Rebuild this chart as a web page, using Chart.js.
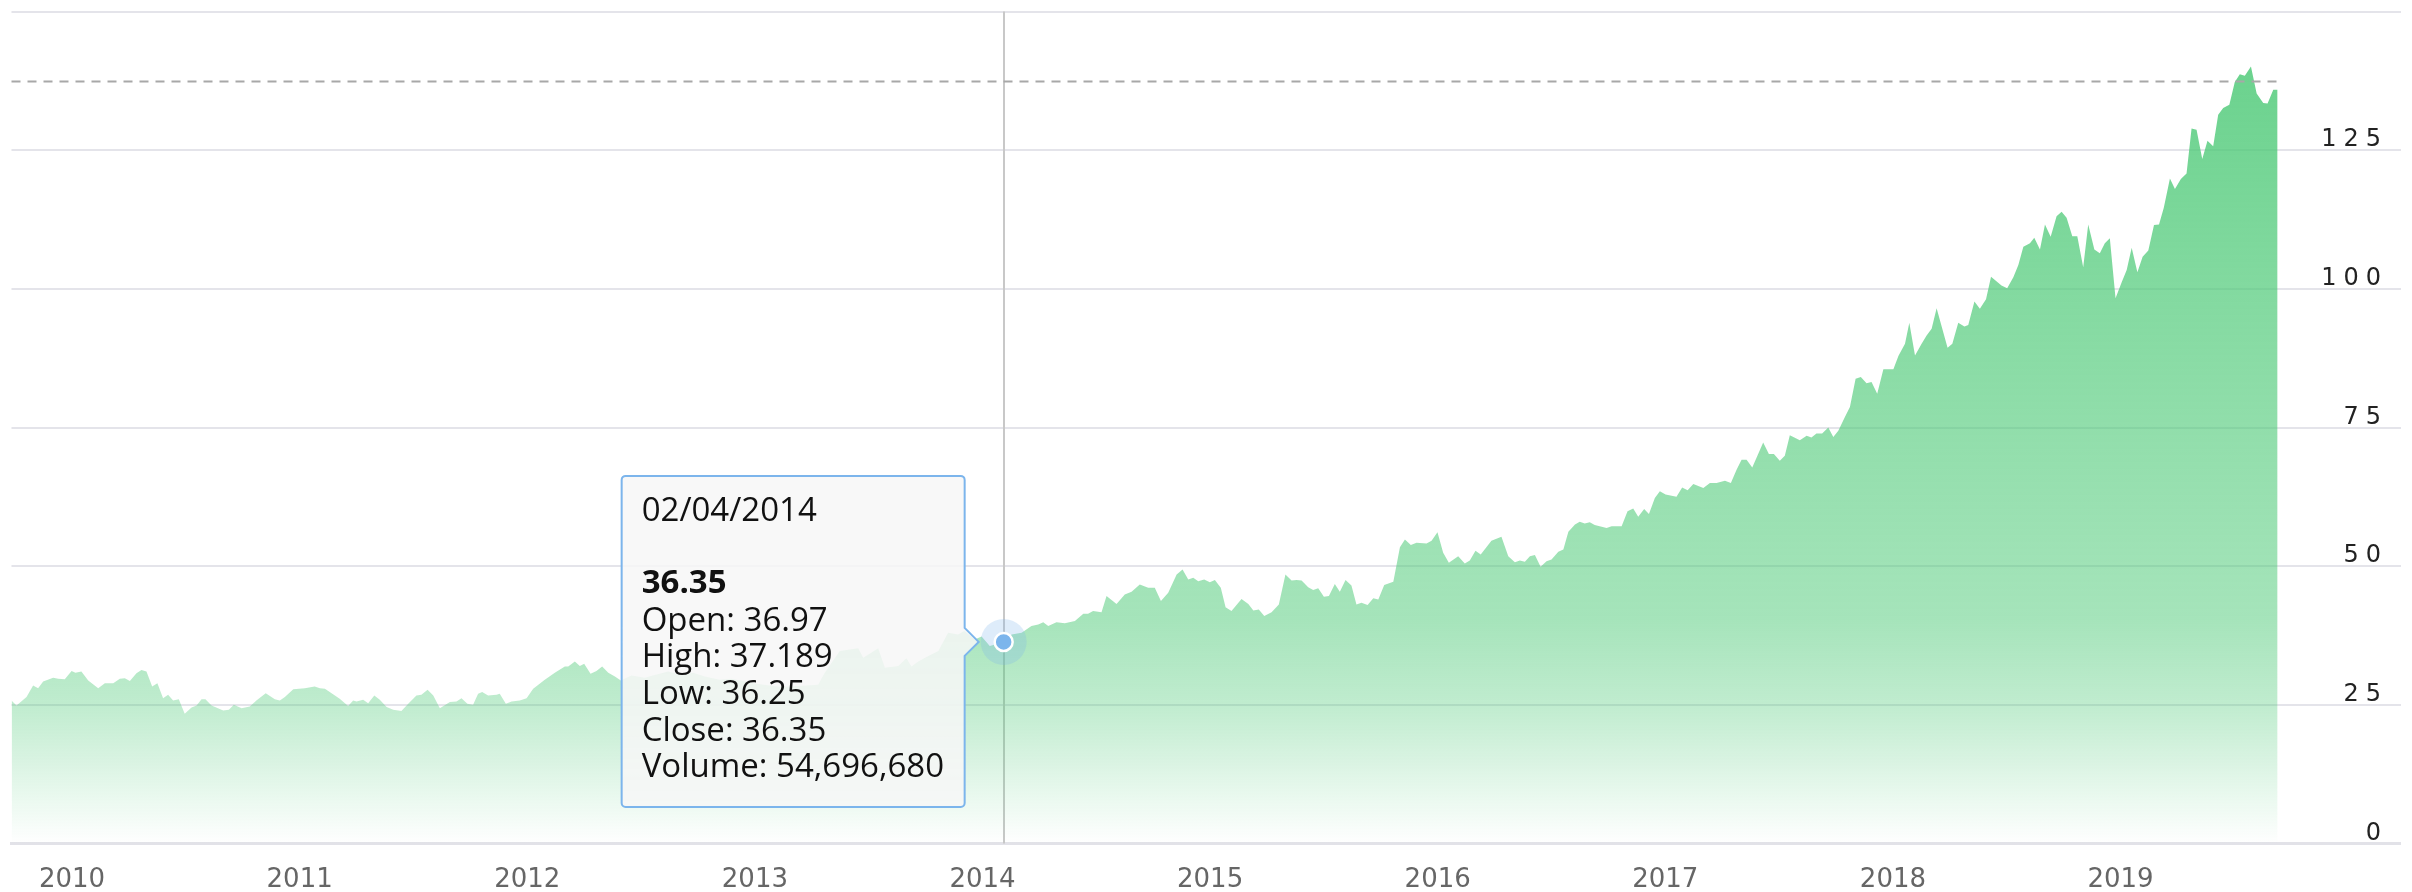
<!DOCTYPE html>
<html><head><meta charset="utf-8">
<script src="https://cdn.jsdelivr.net/npm/chart.js@4/dist/chart.umd.min.js"></script>
<style>html,body{margin:0;padding:0;background:#fff;}#wrap{width:2412px;height:892px;position:relative;}</style>
</head><body><div id="wrap"><canvas id="c"></canvas></div>
<script>
// ---- data (decimal year, close) ----
const years = [
2009.734,2009.756,2009.800,2009.829,2009.851,2009.873,2009.917,2009.939,2009.968,2009.998,
2010.015,2010.041,2010.071,2010.115,2010.144,2010.181,2010.210,2010.232,2010.254,2010.283,
2010.305,2010.327,2010.352,2010.375,2010.400,2010.422,2010.444,2010.469,2010.495,2010.525,
2010.547,2010.569,2010.586,2010.613,2010.664,2010.689,2010.711,2010.745,2010.781,2010.810,
2010.851,2010.891,2010.913,2010.935,2010.972,2011.023,2011.066,2011.089,2011.111,2011.132,
2011.176,2011.213,2011.235,2011.250,2011.279,2011.301,2011.328,2011.352,2011.382,2011.411,
2011.447,2011.477,2011.513,2011.535,2011.562,2011.587,2011.616,2011.660,2011.689,2011.711,
2011.737,2011.762,2011.784,2011.802,2011.828,2011.865,2011.879,2011.906,2011.931,2011.967,
2011.997,2012.026,2012.077,2012.121,2012.165,2012.180,2012.209,2012.231,2012.250,2012.278,
2012.304,2012.329,2012.356,2012.385,2012.411,2012.458,2012.516,2012.560,2012.619,2012.678,
2012.729,2012.780,2012.846,2012.897,2013.007,2013.117,2013.278,2013.307,2013.373,2013.454,
2013.476,2013.542,2013.571,2013.630,2013.666,2013.688,2013.718,2013.762,2013.806,2013.849,
2013.893,2013.920,2013.966,2013.996,2014.032,2014.093,2014.128,2014.172,2014.215,2014.245,
2014.267,2014.289,2014.325,2014.362,2014.406,2014.443,2014.464,2014.486,2014.523,2014.545,
2014.589,2014.625,2014.655,2014.691,2014.728,2014.757,2014.784,2014.816,2014.853,2014.879,
2014.904,2014.926,2014.948,2014.974,2014.999,2015.021,2015.047,2015.068,2015.094,2015.138,
2015.168,2015.190,2015.214,2015.238,2015.270,2015.302,2015.331,2015.358,2015.380,2015.402,
2015.431,2015.453,2015.475,2015.500,2015.522,2015.548,2015.570,2015.595,2015.621,2015.643,
2015.665,2015.692,2015.717,2015.739,2015.765,2015.805,2015.834,2015.856,2015.882,2015.907,
2015.951,2015.973,2015.999,2016.024,2016.049,2016.090,2016.119,2016.141,2016.166,2016.189,
2016.236,2016.280,2016.310,2016.339,2016.361,2016.383,2016.405,2016.427,2016.452,2016.478,
2016.500,2016.530,2016.552,2016.574,2016.603,2016.624,2016.646,2016.668,2016.690,2016.742,
2016.764,2016.808,2016.834,2016.859,2016.881,2016.907,2016.928,2016.954,2016.976,2017.001,
2017.049,2017.074,2017.098,2017.123,2017.167,2017.196,2017.225,2017.262,2017.288,2017.313,
2017.335,2017.357,2017.382,2017.430,2017.455,2017.477,2017.503,2017.525,2017.547,2017.591,
2017.621,2017.642,2017.664,2017.689,2017.716,2017.738,2017.760,2017.789,2017.811,2017.836,
2017.859,2017.884,2017.906,2017.931,2017.958,2018.002,2018.024,2018.053,2018.072,2018.097,
2018.126,2018.148,2018.170,2018.192,2018.240,2018.261,2018.287,2018.314,2018.331,2018.358,
2018.382,2018.409,2018.431,2018.477,2018.502,2018.529,2018.551,2018.573,2018.602,2018.621,
2018.646,2018.668,2018.693,2018.719,2018.741,2018.763,2018.788,2018.810,2018.836,2018.858,
2018.885,2018.909,2018.931,2018.953,2018.978,2019.005,2019.027,2019.049,2019.074,2019.097,
2019.122,2019.147,2019.169,2019.190,2019.217,2019.239,2019.265,2019.290,2019.312,2019.334,
2019.359,2019.382,2019.407,2019.429,2019.451,2019.478,2019.502,2019.524,2019.546,2019.573,
2019.598,2019.627,2019.646,2019.671,2019.690
];
const closes = [
25.8,24.9,26.4,28.5,28.0,29.2,29.9,29.7,29.6,31.1,
30.8,31.0,29.4,28.0,28.9,28.9,29.7,29.8,29.3,30.7,
31.3,31.0,28.3,28.9,26.2,26.8,25.8,26.0,23.4,24.5,
24.9,26.0,26.0,24.9,24.0,24.1,25.0,24.4,24.7,25.8,
27.1,26.0,25.8,26.4,27.8,28.0,28.3,28.0,27.9,27.3,
26.1,24.8,25.8,25.6,25.9,25.3,26.7,25.9,24.6,24.1,
23.9,25.2,26.7,26.8,27.7,26.7,24.4,25.5,25.6,26.2,
25.2,25.0,27.0,27.3,26.7,26.8,27.0,25.2,25.6,25.8,
26.2,27.9,29.5,30.8,31.9,31.9,32.8,32.0,32.4,30.6,
31.1,31.9,30.8,30.1,29.4,30.3,29.9,30.4,31.0,30.4,
30.8,30.1,29.5,29.7,28.8,28.2,28.6,30.8,34.7,35.2,
33.5,35.2,31.7,32.0,33.4,31.9,32.8,33.8,34.7,38.0,
37.7,38.3,36.8,37.3,35.6,36.35,37.7,38.0,39.2,39.5,
39.9,39.2,39.9,39.7,40.1,41.4,41.4,41.9,41.7,44.6,
43.2,44.9,45.4,46.7,46.1,46.1,43.7,45.2,48.5,49.4,
47.6,47.9,47.3,47.6,47.1,47.5,46.1,42.6,41.9,44.1,
43.2,42.0,42.2,41.0,41.7,43.1,48.5,47.4,47.5,47.4,
46.2,45.7,46.0,44.5,44.6,46.8,45.4,47.5,46.5,43.1,
43.4,43.0,44.2,44.0,46.6,47.2,53.4,54.8,53.8,54.2,
54.1,54.6,56.1,52.4,50.6,51.8,50.5,51.0,52.8,52.1,
54.6,55.3,51.8,50.7,51.0,50.8,51.8,52.0,49.9,50.9,
51.2,52.6,53.0,56.2,57.5,58.0,57.7,57.9,57.4,56.9,
57.2,57.2,59.9,60.4,58.9,60.3,59.4,62.3,63.5,62.9,
62.5,64.2,63.7,64.8,64.1,65.0,65.0,65.4,65.0,67.4,
69.2,69.2,67.8,72.3,70.2,70.2,69.0,69.9,73.6,72.7,
73.5,73.2,73.9,73.9,75.0,73.3,74.4,76.9,78.7,83.8,
84.1,83.0,83.2,81.1,85.5,85.5,87.9,90.1,93.9,88.0,
90.1,91.6,92.8,96.5,89.4,90.1,93.9,93.2,93.5,97.7,
96.4,98.1,102.2,100.6,100.1,102.1,104.3,107.6,108.2,109.2,
107.1,111.6,109.4,113.1,113.9,112.8,109.5,109.5,103.9,111.6,
107.1,106.4,108.2,109.1,98.3,101.2,103.4,107.4,103.0,105.8,
106.9,111.5,111.6,114.6,119.9,118.0,119.8,120.8,128.9,128.7,
123.4,126.7,125.7,131.4,132.6,133.2,137.3,138.7,138.4,140.1,
135.2,133.5,133.4,135.9,135.9
];
const yearTicks = [2010,2011,2012,2013,2014,2015,2016,2017,2018,2019];
const yearLabels = ['2010','2011','2012','2013','2014','2015','2016','2017','2018','2019'];
const priceTicks = [0,25,50,75,100,125,150];
const priceLabels = ['0','25','50','75','100','125',''];
const refLevel = 137.4;           // dashed reference line
const hoverYear = 2014.093;       // highlighted point
const hoverDate = '02/04/2014';
const hoverOpen = 36.97, hoverHigh = 37.189, hoverLow = 36.25, hoverClose = 36.35, hoverVolume = 54696680;
const xAxisEnd = 2020.23;

const hoverIndex = years.indexOf(hoverYear);
const areaPoints = years.map((t, i) => ({x: t, y: closes[i]}));

function areaGradient(context) {
  const chart = context.chart;
  const a = chart.chartArea;
  if (!a) return 'rgba(76,201,118,0.5)';
  const g = chart.ctx.createLinearGradient(0, a.top, 0, a.bottom);
  g.addColorStop(0, 'rgba(76,201,118,0.86)');
  g.addColorStop(0.73, 'rgba(76,201,118,0.5)');
  g.addColorStop(0.84, 'rgba(76,201,118,0.34)');
  g.addColorStop(1, 'rgba(76,201,118,0.0)');
  return g;
}

const decor = {
  id: 'decor',
  beforeDraw(chart) {
    const s = chart.scales.y;
    if (!s._spaced) {
      const orig = s.drawLabels;
      s.drawLabels = function (area) {
        const c = this.ctx; c.save(); c.letterSpacing = '7px'; orig.call(this, area); c.restore();
      };
      if (typeof s._getYAxisLabelAlignment === 'function') {
        s._getYAxisLabelAlignment = function () {
          return {textAlign: 'right', x: this.chart.width - 24};
        };
      }
      s._spaced = true;
    }
    s._labelItems = null;
  },
  beforeDatasetsDraw(chart) {
    const {ctx, chartArea} = chart;
    const p = chart.getDatasetMeta(1).data[0];
    ctx.save();
    ctx.strokeStyle = '#c8c8c8';
    ctx.lineWidth = 2;
    ctx.beginPath();
    ctx.moveTo(Math.round(p.x), chartArea.top);
    ctx.lineTo(Math.round(p.x), chartArea.bottom);
    ctx.stroke();
    ctx.restore();
  },
  beforeDatasetDraw(chart, args) {
    if (args.index !== 1) return;
    const ctx = chart.ctx;
    const p = chart.getDatasetMeta(1).data[0];
    ctx.save();
    ctx.fillStyle = 'rgba(124,181,236,0.25)';
    ctx.beginPath(); ctx.arc(p.x, p.y, 23, 0, Math.PI * 2); ctx.fill();
    ctx.restore();
  },
  afterDatasetsDraw(chart) {
    const {ctx, chartArea, scales} = chart;
    const y = Math.round(scales.y.getPixelForValue(refLevel)) + 0.5;
    const xEnd = scales.x.getPixelForValue(years[years.length - 1]);
    ctx.save();
    ctx.strokeStyle = '#a8a8a8';
    ctx.lineWidth = 2;
    ctx.setLineDash([9, 7]);
    ctx.beginPath(); ctx.moveTo(chartArea.left, y); ctx.lineTo(xEnd, y); ctx.stroke();
    ctx.restore();
  },
  afterDraw(chart) {
    const ctx = chart.ctx;
    const p = chart.getDatasetMeta(1).data[0];
    const px = p.x, py = p.y;
    const bw = 343, bh = 331, r = 4, caret = 14;
    const bx = px - 39 - bw, by = py - 166;
    ctx.save();
    ctx.beginPath();
    ctx.moveTo(bx + r, by);
    ctx.lineTo(bx + bw - r, by);
    ctx.arcTo(bx + bw, by, bx + bw, by + r, r);
    ctx.lineTo(bx + bw, py - caret);
    ctx.lineTo(bx + bw + caret, py);
    ctx.lineTo(bx + bw, py + caret);
    ctx.lineTo(bx + bw, by + bh - r);
    ctx.arcTo(bx + bw, by + bh, bx + bw - r, by + bh, r);
    ctx.lineTo(bx + r, by + bh);
    ctx.arcTo(bx, by + bh, bx, by + bh - r, r);
    ctx.lineTo(bx, by + r);
    ctx.arcTo(bx, by, bx + r, by, r);
    ctx.closePath();
    ctx.fillStyle = 'rgba(247,247,247,0.86)';
    ctx.fill();
    ctx.strokeStyle = '#7cb5ec';
    ctx.lineWidth = 2;
    ctx.stroke();
    ctx.fillStyle = '#111';
    ctx.textBaseline = 'middle';
    ctx.textAlign = 'left';
    const tx = bx + 20;
    ctx.font = '33px "Open Sans"';
    ctx.fillText(hoverDate, tx, by + 36);
    ctx.font = 'bold 33px "Open Sans"';
    ctx.fillText(hoverClose.toFixed(2), tx, by + 108);
    ctx.font = '33px "Open Sans"';
    const lines = [
      'Open: ' + hoverOpen,
      'High: ' + hoverHigh,
      'Low: ' + hoverLow,
      'Close: ' + hoverClose.toFixed(2),
      'Volume: ' + hoverVolume.toLocaleString('en-US')
    ];
    lines.forEach((s, i) => ctx.fillText(s, tx, by + 145.5 + i * 36.6));
    ctx.restore();
  }
};

new Chart(document.getElementById('c'), {
  type: 'line',
  data: {
    datasets: [
      {
        data: areaPoints,
        fill: 'origin',
        backgroundColor: areaGradient,
        borderWidth: 0,
        borderColor: 'rgba(0,0,0,0)',
        pointRadius: 0,
        tension: 0,
        order: 1
      },
      {
        data: [{x: years[hoverIndex], y: closes[hoverIndex]}],
        showLine: false,
        pointRadius: 9,
        pointBackgroundColor: '#7cb5ec',
        pointBorderColor: '#ffffff',
        pointBorderWidth: 2.5,
        order: 0
      }
    ]
  },
  options: {
    responsive: true,
    maintainAspectRatio: false,
    animation: false,
    events: [],
    layout: {padding: {left: 10, right: 0, top: 8, bottom: 0}},
    plugins: {legend: {display: false}, tooltip: {enabled: false}},
    scales: {
      x: {
        type: 'linear',
        min: years[0],
        max: xAxisEnd,
        afterBuildTicks: (s) => { s.ticks = yearTicks.map(v => ({value: v})); },
        afterFit: (s) => { s.height = 48.5; s.paddingLeft = 0; s.paddingRight = 0; },
        ticks: {
          callback: (v) => yearLabels[yearTicks.indexOf(v)] ?? '',
          autoSkip: false,
          maxRotation: 0,
          padding: 13,
          color: '#666666',
          font: {family: 'DejaVu Sans', size: 26}
        },
        grid: {display: false},
        border: {display: true, color: '#e2e2e8', width: 3}
      },
      y: {
        position: 'right',
        min: 0,
        max: 150,
        afterBuildTicks: (s) => { s.ticks = priceTicks.map(v => ({value: v})); },
        afterFit: (s) => { s.width = 0; s.paddingTop = 0; s.paddingBottom = 0; },
        ticks: {
          mirror: true,
          callback: (v) => priceLabels[priceTicks.indexOf(v)] ?? '',
          padding: 25,
          labelOffset: -10,
          color: '#222222',
          font: {family: 'DejaVu Sans', size: 24}
        },
        grid: {color: '#e4e4ea', lineWidth: 2, drawTicks: false},
        border: {display: false}
      }
    }
  },
  plugins: [decor]
});
</script>
</body></html>
